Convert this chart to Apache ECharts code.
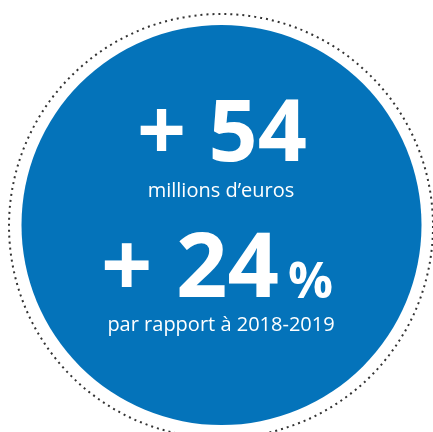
<!DOCTYPE html>
<html>
<head>
<meta charset="utf-8">
<script src="https://cdn.jsdelivr.net/npm/echarts@6/dist/echarts.min.js"></script>
<style>
  html, body { margin: 0; padding: 0; background: #fff; }
  #main { width: 433px; height: 432px; }
</style>
</head>
<body>
<div id="main"></div>
<script>
var disk = [1];
var amount = 54;
var amountUnit = 'millions d\u2019euros';
var growth = 24;
var growthNote = 'par rapport à 2018-2019';

var blue = '#0473ba';
var font = '"Open Sans", sans-serif';

var myChart = echarts.init(document.getElementById('main'));

function label(x, y, text, size, weight, align) {
    return {
        type: 'text',
        z: 100,
        silent: true,
        x: x, y: y,
        style: {
            text: text,
            fill: '#fff',
            font: weight + ' ' + size + 'px ' + font,
            textAlign: align || 'center',
            textVerticalAlign: 'middle'
        }
    };
}

var option = {
    backgroundColor: '#fff',
    animation: false,
    series: [{
        type: 'pie',
        silent: true,
        z: 1,
        center: [221.5, 225],
        radius: [0, 200],
        label: { show: false },
        itemStyle: { color: blue },
        data: disk
    }],
    graphic: [
        {
            type: 'circle',
            silent: true,
            shape: { cx: 221, cy: 226, r: 212 },
            style: { fill: 'none', stroke: '#333', lineWidth: 2, lineDash: [2, 4] }
        },
        label(222, 136, '+ ' + amount, 86, 'bold'),
        label(221, 191, amountUnit, 20, 'normal'),
        label(190, 271, '+ ' + growth, 90, 'bold'),
        label(288, 284, '%', 50, 'bold', 'left'),
        label(221, 325, growthNote, 20, 'normal')
    ]
};
myChart.setOption(option);
</script>
</body>
</html>
